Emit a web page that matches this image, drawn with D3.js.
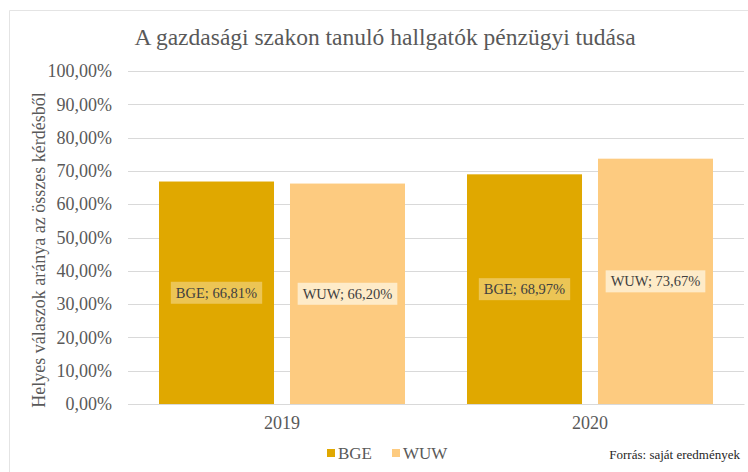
<!DOCTYPE html>
<html>
<head>
<meta charset="utf-8">
<script src="https://cdn.jsdelivr.net/npm/d3@7"></script>
<style>
  body { margin: 0; background: #fff; }
  svg text { font-family: "Liberation Serif", "Times New Roman", serif; }
</style>
</head>
<body>
<div id="chart"></div>
<script>
const years = ['2019', '2020'];
const seriesNames = ['BGE', 'WUW'];
const bgeValues = [66.81, 68.97];
const wuwValues = [66.20, 73.67];
const yTicks = [0, 10, 20, 30, 40, 50, 60, 70, 80, 90, 100];

const colors = {BGE: '#e0a800', WUW: '#fdcb80'};
const labelBg = {BGE: '#ecc555', WUW: '#feebc8'};

const width = 748, height = 472;
const margin = {top: 71, right: 4, bottom: 68, left: 128};

let svg = d3.select('#chart').append('svg')
    .attr('width', width)
    .attr('height', height);

// faint chart frame
svg.append('path')
    .attr('d', 'M9.5,' + height + 'V10.5H' + width)
    .attr('fill', 'none')
    .attr('stroke', '#e4e4e4');

let data = [];
years.forEach(function(y, i) {
    data.push({year: y, series: 'BGE', value: bgeValues[i]});
    data.push({year: y, series: 'WUW', value: wuwValues[i]});
});

let x = d3.scaleBand()
    .domain(years)
    .range([margin.left, width - margin.right])
    .paddingInner(0)
    .paddingOuter(0);

let xInner = d3.scaleBand()
    .domain(seriesNames)
    .range([31, x.bandwidth() - 31])
    .paddingInner(0.122);

let y = d3.scaleLinear()
    .domain([0, 100])
    .range([height - margin.bottom, margin.top]);

let fmt = function(v) { return v.toFixed(2).replace('.', ',') + '%'; };

// grid
svg.append('g')
    .selectAll('line')
    .data(yTicks)
    .enter()
    .append('line')
    .attr('x1', margin.left)
    .attr('x2', width - margin.right)
    .attr('y1', function(d) { return Math.round(y(d)) + 0.5; })
    .attr('y2', function(d) { return Math.round(y(d)) + 0.5; })
    .attr('stroke', '#d9d9d9')
    .attr('stroke-width', 1);

// y axis labels
let yAxis = d3.axisLeft(y)
    .tickValues(yTicks)
    .tickSize(0)
    .tickPadding(0)
    .tickFormat(fmt);

let yg = svg.append('g')
    .attr('transform', 'translate(112,0)')
    .call(yAxis);
yg.select('.domain').remove();
yg.selectAll('text')
    .attr('fill', '#595959')
    .style('font-size', '18px')
    .style('font-family', '"Liberation Serif", serif');

// bars
let groups = svg.append('g')
    .selectAll('g')
    .data(data)
    .enter()
    .append('g')
    .attr('transform', function(d) { return 'translate(' + (x(d.year) + xInner(d.series)) + ',0)'; });

groups.append('rect')
    .attr('x', 0)
    .attr('y', function(d) { return y(d.value); })
    .attr('width', xInner.bandwidth())
    .attr('height', function(d) { return y(0) - y(d.value); })
    .attr('fill', function(d) { return colors[d.series]; });

// data labels
groups.each(function(d) {
    let g = d3.select(this);
    let cy = (y(d.value) + y(0)) / 2;
    let t = g.append('text')
        .attr('x', xInner.bandwidth() / 2)
        .attr('y', cy)
        .attr('dy', '0.35em')
        .attr('text-anchor', 'middle')
        .attr('fill', '#404040')
        .style('font-size', '14.5px')
        .text(d.series + '; ' + fmt(d.value));
    let bb = t.node().getBBox();
    g.insert('rect', 'text')
        .attr('x', bb.x - 5)
        .attr('y', cy - 11)
        .attr('width', bb.width + 10)
        .attr('height', 22)
        .attr('fill', labelBg[d.series]);
});

// x axis
let xAxis = d3.axisBottom(x).tickSize(0).tickPadding(12);
let xg = svg.append('g')
    .attr('transform', 'translate(0,' + y(0) + ')')
    .call(xAxis);
xg.select('.domain')
    .attr('stroke', '#d9d9d9');
xg.selectAll('text')
    .attr('fill', '#595959')
    .style('font-size', '18px')
    .style('font-family', '"Liberation Serif", serif');

// title
svg.append('text')
    .attr('x', 385)
    .attr('y', 45)
    .attr('text-anchor', 'middle')
    .attr('fill', '#595959')
    .style('font-size', '23.5px')
    .text('A gazdasági szakon tanuló hallgatók pénzügyi tudása');

// y title
svg.append('text')
    .attr('transform', 'translate(45,250) rotate(-90)')
    .attr('text-anchor', 'middle')
    .attr('fill', '#595959')
    .style('font-size', '18px')
    .text('Helyes válaszok aránya az összes kérdésből');

// legend
let legendX = [327, 392];
let legend = svg.append('g')
    .selectAll('g')
    .data(seriesNames)
    .enter()
    .append('g')
    .attr('transform', function(d, i) { return 'translate(' + legendX[i] + ',453)'; });
legend.append('rect')
    .attr('x', 0)
    .attr('y', -4)
    .attr('width', 8)
    .attr('height', 8)
    .attr('fill', function(d) { return colors[d]; });
legend.append('text')
    .attr('x', 11)
    .attr('dy', '0.35em')
    .attr('fill', '#595959')
    .style('font-size', '17px')
    .text(function(d) { return d; });

// source
svg.append('text')
    .attr('x', 740)
    .attr('y', 459)
    .attr('text-anchor', 'end')
    .attr('fill', '#262626')
    .style('font-size', '13px')
    .text('Forrás: saját eredmények');
</script>
</body>
</html>
